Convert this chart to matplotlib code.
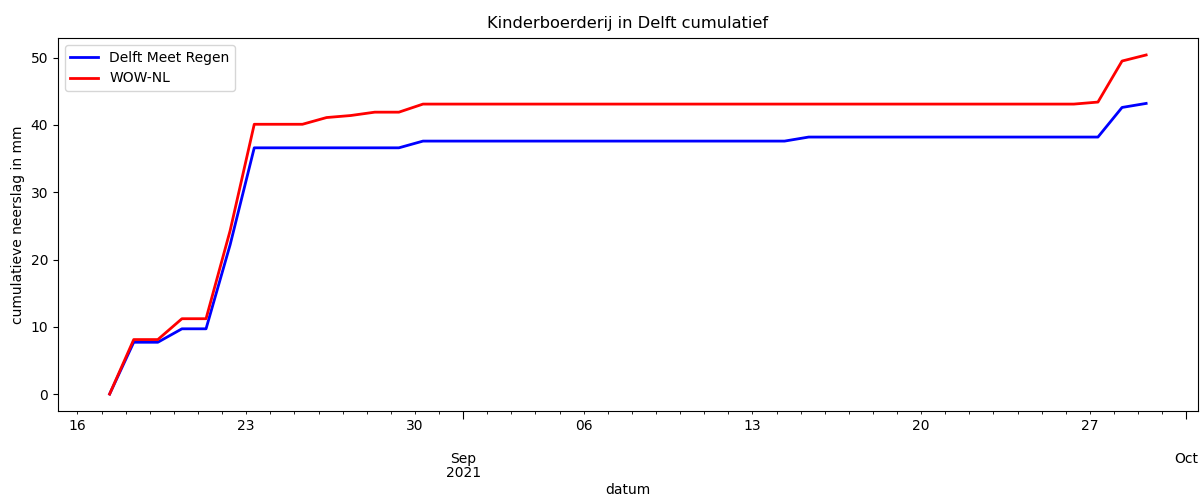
import pandas as pd
import matplotlib
matplotlib.use("Agg")
import matplotlib.pyplot as plt
import matplotlib.dates as mdates
import matplotlib.ticker as mticker

# daily readings, taken at 08:00
datum = pd.date_range("2021-08-17 08:00", "2021-09-29 08:00", freq="D")

# cumulative rain (mm) per station
delft_meet_regen = [0.0, 7.7, 7.7, 9.7, 9.7, 22.2, 36.6, 36.6, 36.6, 36.6, 36.6,
                    36.6, 36.6, 37.6, 37.6, 37.6, 37.6, 37.6, 37.6, 37.6, 37.6,
                    37.6, 37.6, 37.6, 37.6, 37.6, 37.6, 37.6, 37.6, 38.2, 38.2,
                    38.2, 38.2, 38.2, 38.2, 38.2, 38.2, 38.2, 38.2, 38.2, 38.2,
                    38.2, 42.6, 43.2]
wow_nl = [0.0, 8.1, 8.1, 11.2, 11.2, 24.3, 40.1, 40.1, 40.1, 41.1, 41.4,
          41.9, 41.9, 43.1, 43.1, 43.1, 43.1, 43.1, 43.1, 43.1, 43.1,
          43.1, 43.1, 43.1, 43.1, 43.1, 43.1, 43.1, 43.1, 43.1, 43.1,
          43.1, 43.1, 43.1, 43.1, 43.1, 43.1, 43.1, 43.1, 43.1, 43.1,
          43.4, 49.5, 50.4]

fig = plt.figure(figsize=(12.04, 4.97), dpi=100)
ax = fig.add_axes([0.048, 0.173, 0.947, 0.7505])

ax.plot(datum, delft_meet_regen, color='blue', lw=2, label='Delft Meet Regen')
ax.plot(datum, wow_nl, color='red', lw=2, label='WOW-NL')

ax.set_title('Kinderboerderij in Delft cumulatief', fontsize=11.7, pad=7)
ax.set_ylabel('cumulatieve neerslag in mm', fontsize=10)
ax.set_xlabel('datum', fontsize=10, labelpad=2)
ax.legend(loc='upper left', fontsize=10)

# months on the major ticks, days (labelled on mondays) on the minor ticks
ax.xaxis.set_major_locator(mdates.MonthLocator())
ax.xaxis.set_minor_locator(mdates.DayLocator())


def month_label(x, pos):
    d = mdates.num2date(x)
    if d.month == 9:
        return '\n\n%s\n%d' % (d.strftime('%b'), d.year)
    return '\n\n' + d.strftime('%b')


def day_label(x, pos):
    d = mdates.num2date(x)
    if d.weekday() == 0:
        return d.strftime('%d')
    return ''


ax.xaxis.set_major_formatter(mticker.FuncFormatter(month_label))
ax.xaxis.set_minor_formatter(mticker.FuncFormatter(day_label))
ax.tick_params(axis='both', which='both', labelsize=10)
ax.tick_params(axis='x', which='major', length=6)

fig.canvas.draw()
for lbl in ax.get_xticklabels():
    lbl.set_linespacing(1.0)

fig.savefig('out.png', dpi=100)
